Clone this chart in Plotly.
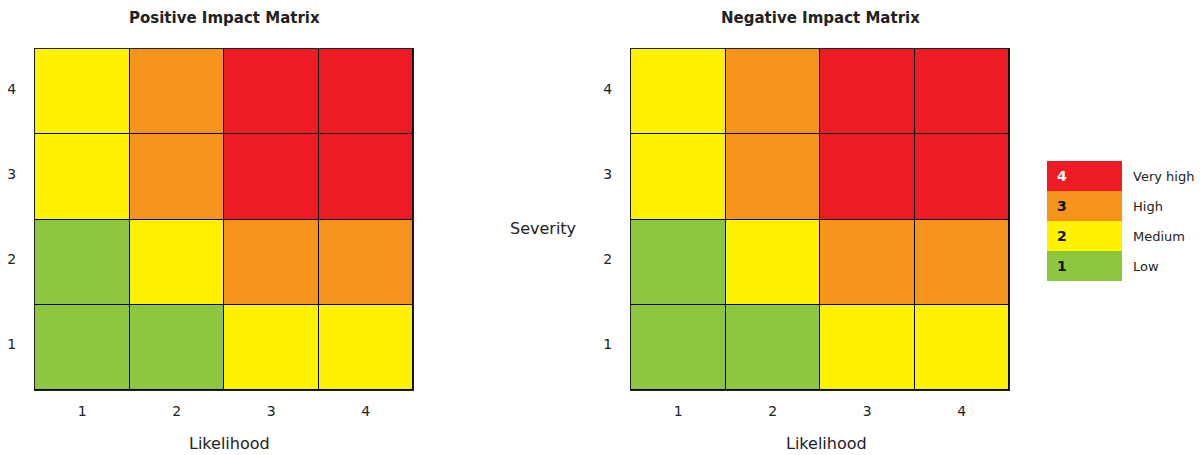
import plotly.graph_objects as go

likelihood = [1, 2, 3, 4]
severity = [1, 2, 3, 4]
# rows: severity 1..4 (bottom to top), columns: likelihood 1..4
positive_z = [
    [1, 1, 2, 2],
    [1, 2, 3, 3],
    [2, 3, 4, 4],
    [2, 3, 4, 4],
]
negative_z = [
    [1, 1, 2, 2],
    [1, 2, 3, 3],
    [2, 3, 4, 4],
    [2, 3, 4, 4],
]
legend_levels = [1, 2, 3, 4]
legend_labels = ["Low", "Medium", "High", "Very high"]
level_colors = ["#8DC63F", "#FFF200", "#F7941D", "#ED1C24"]

# page body has an 8px margin; compensate so positions match the window
OFF = 8
W, H = 1204 - OFF, 455 - OFF
FONT = "DejaVu Sans"

def px_x(v):
    return (v - OFF) / W

def px_y(v):
    return 1 - (v - OFF) / H

colorscale = []
for i, c in enumerate(level_colors):
    colorscale.append([i / 4, c])
    colorscale.append([(i + 1) / 4, c])

fig = go.Figure()

for z, xa, ya in [(positive_z, "x", "y"), (negative_z, "x2", "y2")]:
    fig.add_trace(go.Heatmap(
        x=likelihood, y=severity, z=z,
        colorscale=colorscale, zmin=0.5, zmax=4.5,
        showscale=False, xgap=1, ygap=1,
        xaxis=xa, yaxis=ya, hoverinfo="skip",
    ))

fig.add_trace(go.Heatmap(
    x=[0], y=legend_levels, z=[[v] for v in legend_levels],
    colorscale=colorscale, zmin=0.5, zmax=4.5,
    showscale=False, xaxis="x3", yaxis="y3", hoverinfo="skip",
))

ydom = [px_y(390), px_y(49)]
axis_common = dict(
    showgrid=False, zeroline=False, showline=True, mirror=True,
    linecolor="#222", linewidth=1, ticks="outside", tickcolor="rgba(0,0,0,0)",
    tickfont=dict(family=FONT, size=14, color="#222"), automargin=False,
    tickmode="array", tickvals=[1, 2, 3, 4], ticktext=["1", "2", "3", "4"],
    fixedrange=True,
)

fig.update_layout(
    width=W, height=H,
    margin=dict(l=0, r=0, t=0, b=0),
    paper_bgcolor="white", plot_bgcolor="black",
    font=dict(family=FONT, color="#222"),
    xaxis=dict(domain=[px_x(35), px_x(413)], anchor="y", ticklen=8, range=[0.5, 4.5], **axis_common),
    yaxis=dict(domain=ydom, anchor="x", ticklen=15, ticklabelshift=-3, range=[0.5, 4.5], **axis_common),
    xaxis2=dict(domain=[px_x(631), px_x(1009)], anchor="y2", ticklen=8, range=[0.5, 4.5], **axis_common),
    yaxis2=dict(domain=ydom, anchor="x2", ticklen=15, ticklabelshift=-3, range=[0.5, 4.5], **axis_common),
    xaxis3=dict(domain=[px_x(1047), px_x(1122)], anchor="y3", visible=False, range=[-0.5, 0.5], fixedrange=True),
    yaxis3=dict(domain=[px_y(281), px_y(161)], anchor="x3", visible=False, range=[0.5, 4.5], fixedrange=True),
)

def ann(text, x, y, size):
    return dict(text=text, x=px_x(x), y=px_y(y), xref="paper", yref="paper",
                xanchor="center", yanchor="middle", showarrow=False,
                font=dict(family=FONT, size=size, color="#222"))

annotations = [
    ann("<b>Positive Impact Matrix</b>", 224, 18, 15),
    ann("<b>Negative Impact Matrix</b>", 820, 18, 15),
    ann("Likelihood", 230, 443, 16),
    ann("Likelihood", 826, 443, 16),
    ann("Severity", 543, 228, 16),
]
for lvl, lab in zip(legend_levels, legend_labels):
    annotations.append(dict(
        text=f"<b>{lvl}</b>", x=-0.5, y=lvl, xref="x3", yref="y3", xanchor="left",
        yanchor="middle", xshift=8, showarrow=False,
        font=dict(family=FONT, size=14, color="white" if lvl == 4 else "#111"),
    ))
    annotations.append(dict(
        text=lab, x=0.5, y=lvl, xref="x3", yref="y3", xanchor="left",
        yanchor="middle", xshift=9, showarrow=False,
        font=dict(family=FONT, size=13, color="#222"),
    ))
fig.update_layout(annotations=annotations)

fig.write_html("out.html")
